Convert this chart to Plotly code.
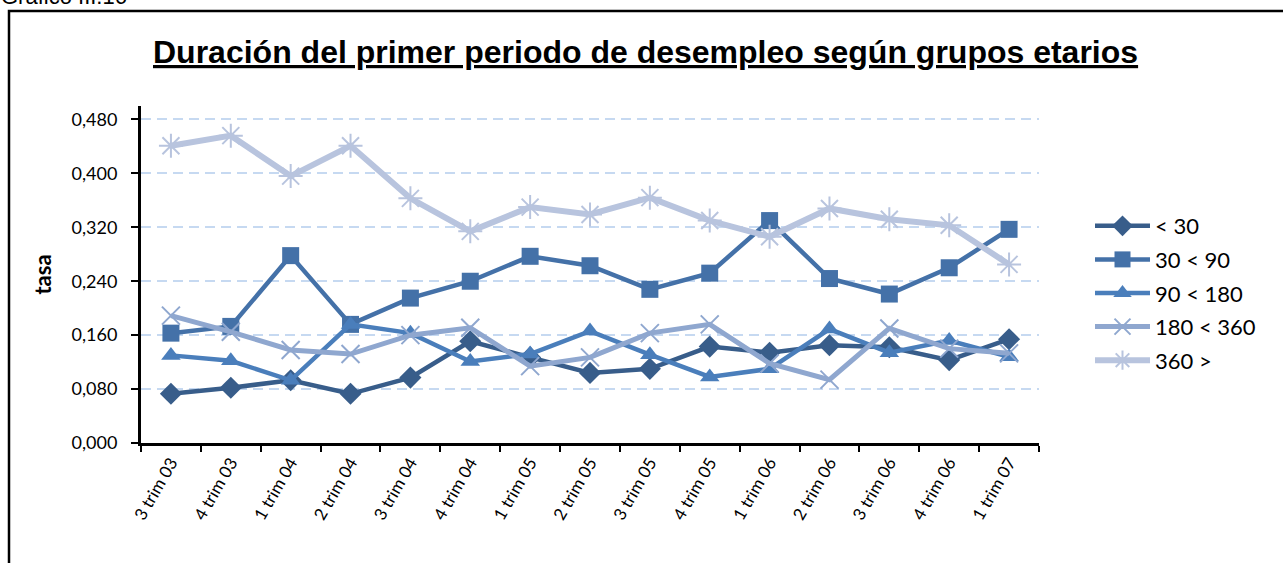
import plotly.graph_objects as go

categories = ["3 trim 03", "4 trim 03", "1 trim 04", "2 trim 04", "3 trim 04", "4 trim 04",
              "1 trim 05", "2 trim 05", "3 trim 05", "4 trim 05", "1 trim 06", "2 trim 06",
              "3 trim 06", "4 trim 06", "1 trim 07"]

lt30 = [0.073, 0.082, 0.093, 0.073, 0.097, 0.151, 0.127, 0.104, 0.110, 0.143, 0.134, 0.145, 0.142, 0.123, 0.154]
s30_90 = [0.163, 0.173, 0.278, 0.176, 0.215, 0.240, 0.277, 0.263, 0.228, 0.252, 0.330, 0.244, 0.221, 0.260, 0.317]
s90_180 = [0.130, 0.122, 0.093, 0.176, 0.163, 0.121, 0.132, 0.166, 0.131, 0.098, 0.110, 0.169, 0.134, 0.152, 0.128]
s180_360 = [0.189, 0.165, 0.138, 0.132, 0.160, 0.171, 0.114, 0.127, 0.163, 0.176, 0.118, 0.094, 0.170, 0.140, 0.133]
s360 = [0.441, 0.456, 0.396, 0.441, 0.363, 0.314, 0.350, 0.339, 0.364, 0.330, 0.306, 0.348, 0.332, 0.323, 0.265]

series_names = ["< 30", "30 < 90", "90 < 180", "180 < 360", "360 >"]
series_values = [lt30, s30_90, s90_180, s180_360, s360]
colors = ["#385D8A", "#4471A8", "#4A7EBB", "#8FA7CF", "#B8C4DE"]
symbols = ["diamond", "square", "triangle-up", "x-thin-open", "asterisk-open"]
msizes = [17, 17, 17, 18, 20]
lwidths = [4.5, 4.5, 4.5, 5, 6]

OFF = 0  # body margin removed via post_script
W, H = 1283 - OFF, 563 - OFF
L, R, T, B = 141 - OFF, 1039 - OFF, 106 - OFF, 443 - OFF
pw, ph = R - L, B - T

def px(x):
    return (x - OFF - L) / pw

def py(y):
    return (B - (y - OFF)) / ph

fig = go.Figure()
for i, (name, vals) in enumerate(zip(series_names, series_values)):
    fig.add_trace(go.Scatter(
        x=categories, y=vals, name=name, mode="lines+markers",
        legendgroup=name,
        line=dict(color=colors[i], width=lwidths[i]),
        marker=dict(symbol=symbols[i], size=msizes[i], color=colors[i],
                    line=dict(color=colors[i], width=2 if "open" in symbols[i] else 0)),
    ))

fig.update_layout(
    width=W, height=H,
    margin=dict(l=L, r=W - R, t=T, b=H - B, pad=0),
    paper_bgcolor="white", plot_bgcolor="white",
    separators=",.",
    font=dict(family="Lato, Carlito, Calibri, sans-serif", color="black"),
    showlegend=True,
    legend=dict(x=px(1090), y=py(205), xanchor="left", yanchor="top",
                font=dict(size=22, family="Lato, Carlito, sans-serif"),
                tracegroupgap=2, bgcolor="rgba(0,0,0,0)", itemwidth=55),
    xaxis=dict(type="category", range=[-0.5, 14.5], tickson="boundaries",
               ticks="outside", ticklen=6, tickwidth=2, tickcolor="black",
               showline=True, linecolor="black", linewidth=3,
               showgrid=False, tickangle=-60,
               tickfont=dict(size=17, family="Lato, Carlito, sans-serif")),
    yaxis=dict(range=[0, 0.5], tickvals=[0, 0.08, 0.16, 0.24, 0.32, 0.40, 0.48],
               tickformat=".3f", ticks="outside", ticklen=7, tickwidth=2, tickcolor="black",
               ticklabelstandoff=10,
               showline=True, linecolor="black", linewidth=3,
               showgrid=True, gridcolor="#C6D9F1", gridwidth=2, griddash="10px,6px",
               zeroline=False,
               tickfont=dict(size=18, family="Lato, Carlito, sans-serif"),
               title=dict(text="<b>tasa</b>", standoff=14,
                          font=dict(size=22, family="Lato, Carlito, sans-serif"))),
    shapes=[dict(type="rect", xref="paper", yref="paper",
                 x0=px(9), x1=px(1300), y0=py(600), y1=py(11),
                 line=dict(color="black", width=2.5), fillcolor="rgba(0,0,0,0)", layer="below")],
    annotations=[
        dict(text="<b><u>Duración del primer periodo de desempleo según grupos etarios</u></b>",
             xref="paper", yref="paper", x=px(645), y=py(52), xanchor="center", yanchor="middle",
             showarrow=False, font=dict(size=32, family="Liberation Sans, Arial, sans-serif")),
        dict(text="Gráfico III.16", xref="paper", yref="paper", x=px(-1), y=py(-4),
             xanchor="left", yanchor="middle", showarrow=False,
             font=dict(size=22, family="Liberation Sans, Arial, sans-serif")),
    ],
)

fig.write_html("out.html", config={"displayModeBar": False},
               post_script="document.body.style.margin='0';")
